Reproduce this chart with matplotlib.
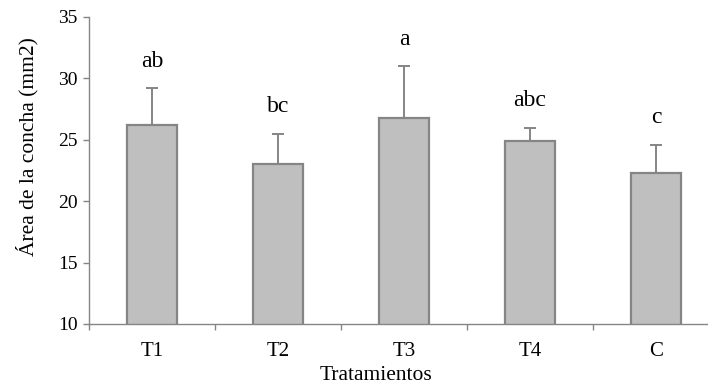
import matplotlib
matplotlib.use("Agg")
import matplotlib.pyplot as plt
import numpy as np

plt.rcParams["font.family"] = ["Liberation Serif", "DejaVu Serif"]

# Datos
tratamientos = ["T1", "T2", "T3", "T4", "C"]
area_media = [26.2, 23.0, 26.8, 24.9, 22.3]
area_error = [3.0, 2.5, 4.2, 1.1, 2.3]
letras = ["ab", "bc", "a", "abc", "c"]

GRIS_BARRA = "#bfbfbf"
GRIS_BORDE = "#858585"

fig = plt.figure(figsize=(7.08, 3.85), dpi=100)
ax = fig.add_axes([89 / 708, 1 - 324 / 385, 1 - 89 / 708, (324 - 17) / 385])

x = np.arange(len(tratamientos))
ax.bar(x, area_media, width=0.39, bottom=0, color=GRIS_BARRA,
       edgecolor=GRIS_BORDE, linewidth=1.6, zorder=2)

err = ax.errorbar(x, area_media, yerr=[np.zeros(len(x)), area_error],
                  fmt="none", ecolor=GRIS_BORDE, elinewidth=1.4,
                  capsize=4.5, capthick=1.4, zorder=3)
# ocultar el cap inferior (solo se muestra el error superior)
err.lines[1][0].set_visible(False)

for xi, m, e, letra in zip(x, area_media, area_error, letras):
    ax.annotate(letra, xy=(xi, m + e), xytext=(0, 19.5),
                textcoords="offset points", ha="center", va="center",
                fontsize=17)

ax.set_ylim(10, 35)
ax.set_xlim(-0.5, -0.5 + (708 - 89) / 126)
ax.set_yticks([10, 15, 20, 25, 30, 35])
ax.set_xticks(x)
ax.set_xticklabels(tratamientos)
ax.set_xticks(np.arange(len(tratamientos)) - 0.5, minor=True)

for s in ["top", "right"]:
    ax.spines[s].set_visible(False)
for s in ["left", "bottom"]:
    ax.spines[s].set_color(GRIS_BORDE)
    ax.spines[s].set_linewidth(1.0)

ax.tick_params(axis="y", direction="out", length=4, width=1.0,
               color=GRIS_BORDE, labelsize=14, pad=4)
ax.tick_params(axis="x", which="major", length=0, labelsize=15, pad=13)
ax.tick_params(axis="x", which="minor", direction="out", length=4,
               width=1.0, color=GRIS_BORDE)

fig.text(376 / 708, 1 - 376 / 385, "Tratamientos", ha="center",
         va="center", fontsize=15.5)
fig.text(27 / 708, 1 - 147 / 385, "Área de la concha (mm2)", ha="center",
         va="center", rotation=90, fontsize=15.5)

fig.savefig("out.png", dpi=100)
